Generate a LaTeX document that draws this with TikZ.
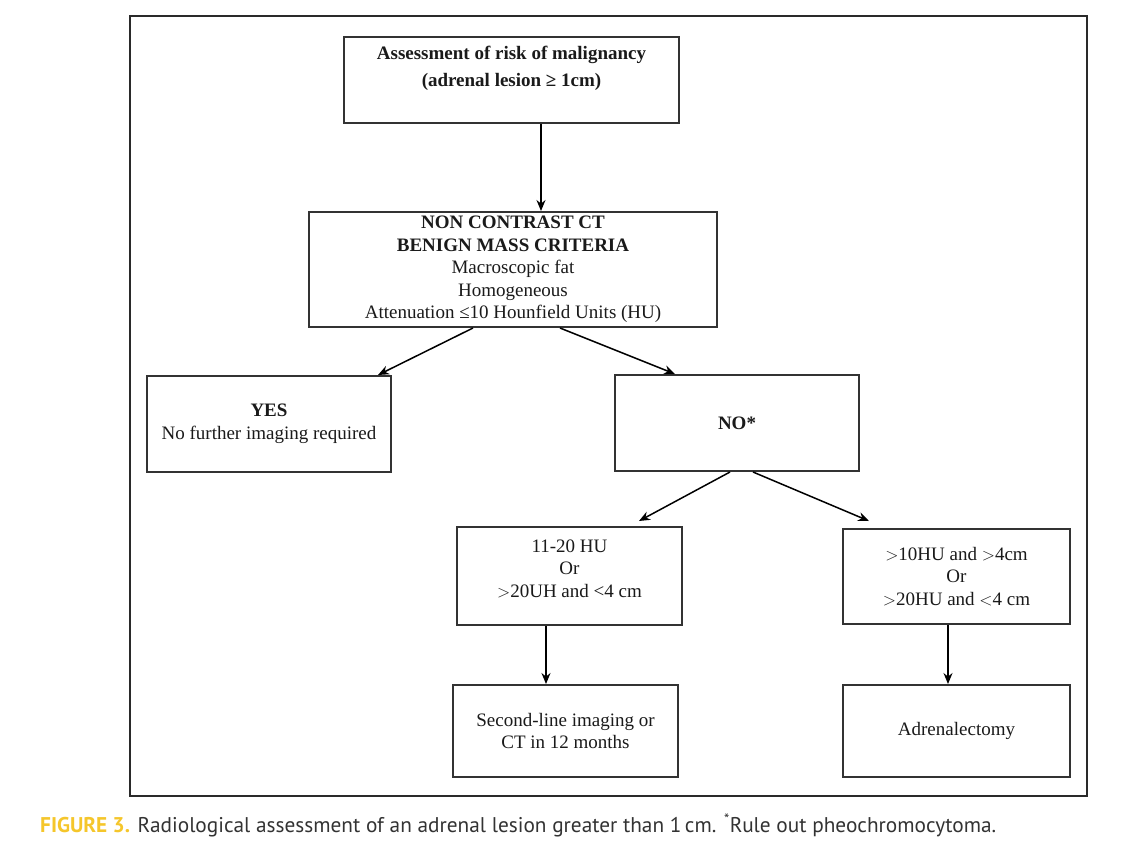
\documentclass[tikz,border=0pt]{standalone}
\usepackage{fontspec}
\setmainfont{Liberation Serif}
\newfontfamily\capfont{PT Sans}
\usetikzlibrary{arrows.meta}
\definecolor{boxline}{HTML}{333333}
\definecolor{txt}{HTML}{1A1A1A}
\definecolor{figyel}{HTML}{F5C62B}
\definecolor{capgray}{HTML}{333333}
\definecolor{frame}{HTML}{2A2A2A}
\begin{document}
\begin{tikzpicture}[x=1pt,y=-1pt,
  box/.style={draw=boxline, line width=2pt, inner sep=0pt, align=center, text=txt,
    font=\fontsize{19}{22.5}\selectfont},
  arr/.style={-{Stealth[length=11pt,width=9pt]}, line width=1.5pt, black}]
\useasboundingbox (0,0) rectangle (1125,863);
\fill[white] (0,0) rectangle (1125,863);
\draw[line width=1.8pt, draw=frame] (130,16) rectangle (1087,796);

\node[box, minimum width=335pt, minimum height=86pt, font=\bfseries\fontsize{19}{27}\selectfont]
  (box1) at (511.5,80) {Assessment of risk of malignancy\\(adrenal lesion ≥ 1cm)\\ \mbox{}};
\node[box, minimum width=408pt, minimum height=115pt] (box2) at (513,269.5)
  {\textbf{NON CONTRAST CT}\\\textbf{BENIGN MASS CRITERIA}\\Macroscopic fat\\Homogeneous\\Attenuation ≤10 Hounfield Units (HU)};
\node[box, minimum width=244pt, minimum height=96pt] (yes) at (269,424)
  {\textbf{YES}\\No further imaging required};
\node[box, minimum width=244pt, minimum height=96pt, font=\bfseries\fontsize{19}{22.5}\selectfont] (no) at (737,423) {NO*};
\node[box, minimum width=225pt, minimum height=98pt] (b5) at (569.5,576)
  {11-20 HU\\Or\\\(>\)20UH and <4 cm\\[-7pt]\mbox{}};
\node[box, minimum width=227pt, minimum height=95pt] (b6) at (956.5,576.5)
  {\(>\)10HU and \(>\)4cm\\Or\\\(>\)20HU and \(<\)4 cm};
\node[box, minimum width=225pt, minimum height=92pt] (b7) at (565.5,731)
  {Second-line imaging or\\CT in 12 months};
\node[box, minimum width=227pt, minimum height=92pt] (b8) at (956.5,731)
  {Adrenalectomy};

\draw[arr] ([xshift=29.5pt]box1.south) -- ([xshift=29.5pt]box1.south |- box2.north);
\draw[arr] ([xshift=-40pt]box2.south) -- ([xshift=109pt]yes.north);
\draw[arr] ([xshift=47pt]box2.south) -- ([xshift=-62pt]no.north);
\draw[arr] ([xshift=-7pt]no.south) -- ([xshift=69.5pt,yshift=5pt]b5.north);
\draw[arr] ([xshift=16pt]no.south) -- ([xshift=-87.5pt,yshift=7pt]b6.north);
\draw[arr] ([xshift=-23.5pt]b5.south) -- ([xshift=-23.5pt]b5.south |- b7.north);
\draw[arr] ([xshift=-8.5pt]b6.south) -- ([xshift=-8.5pt]b6.south |- b8.north);

\node[anchor=base west, inner sep=0pt, text=capgray, font=\capfont\fontsize{21.3}{21.3}\selectfont]
  (cap) at (40,832) {{\bfseries\color{figyel}FIGURE 3.} Radiological assessment of an adrenal lesion greater than 1\,cm. \textsuperscript{*}Rule out pheochromocytoma.};
\end{tikzpicture}
\end{document}
